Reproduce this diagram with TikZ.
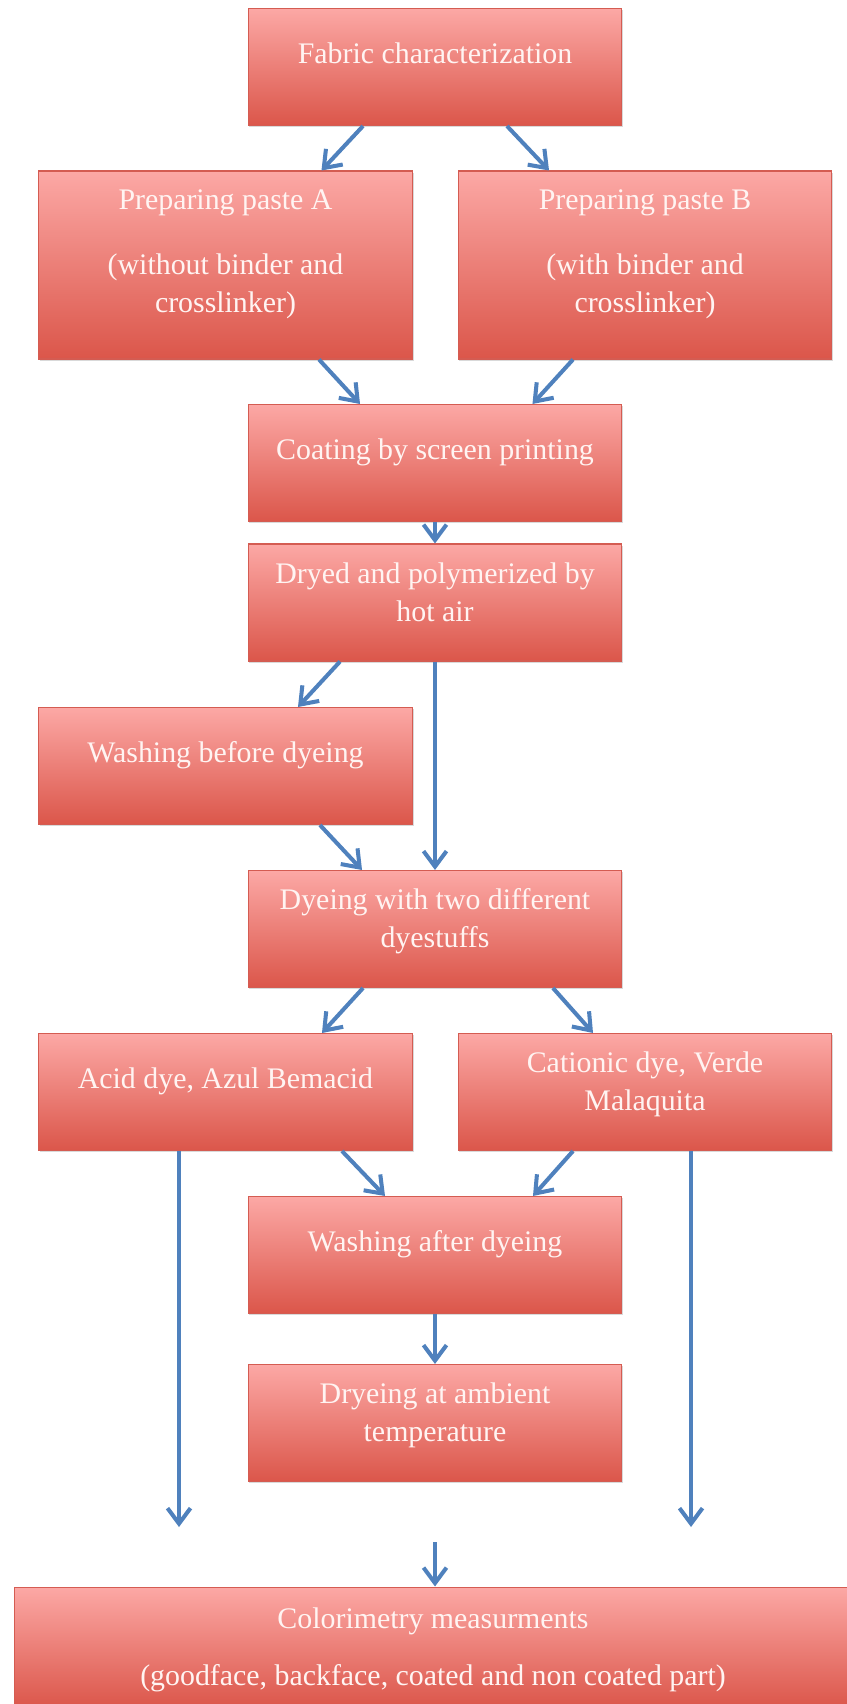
\documentclass[tikz,border=0pt]{standalone}
\usepackage{fontspec}
\setmainfont{Liberation Serif}
\usetikzlibrary{positioning,arrows.meta,shadows,calc}
\definecolor{boxtop}{RGB}{252,168,165}
\definecolor{boxbottom}{RGB}{219,86,74}
\definecolor{boxline}{RGB}{212,92,82}
\definecolor{flowblue}{RGB}{79,129,189}
\definecolor{boxtext}{RGB}{255,244,242}
\newcommand{\steptext}[1]{\begin{tabular}[b]{@{}c@{}}#1\end{tabular}}
\tikzset{
  process/.style={rectangle, draw=boxline, line width=0.6pt,
    top color=boxtop, bottom color=boxbottom,
    minimum width=7.48cm, minimum height=2.34cm, inner sep=0pt,
    text=boxtext, font=\fontsize{17}{21.8}\selectfont, text depth=19pt,
    drop shadow={shadow xshift=0.7pt, shadow yshift=-0.9pt, opacity=0.3}},
  twoline/.style={text depth=15.5pt},
  flow/.style={draw=flowblue, line width=2.3pt,
    -{Straight Barb[length=3.1mm,width=4.6mm]}},
}

\begin{document}
\begin{tikzpicture}[x=0.02cm, y=-0.02cm]
\useasboundingbox (0,0) rectangle (847,1704);

\node[process] (fabric) at (435,67) {\steptext{Fabric characterization}};
\node[process, minimum height=3.76cm, text depth=20pt] (pasteA) at (225.5,265)
  {\steptext{Preparing paste A\\[15.2pt] (without binder and\\ crosslinker)}};
\node[process, minimum height=3.76cm, text depth=20pt] (pasteB) at (645,265)
  {\steptext{Preparing paste B\\[15.2pt] (with binder and\\ crosslinker)}};
\node[process] (coating) at (435,463) {\steptext{Coating by screen printing}};
\node[process, twoline] (drying) at (435,602.5) {\steptext{Dryed and polymerized by\\ hot air}};
\node[process] (washpre) at (225.5,766) {\steptext{Washing before dyeing}};
\node[process, twoline] (dyeing) at (435,929) {\steptext{Dyeing with two different\\ dyestuffs}};
\node[process] (acid) at (225.5,1092) {\steptext{Acid dye, Azul Bemacid}};
\node[process, twoline] (cationic) at (645,1092) {\steptext{Cationic dye, Verde\\ Malaquita}};
\node[process] (washpost) at (435,1255) {\steptext{Washing after dyeing}};
\node[process, twoline] (ambient) at (435,1423) {\steptext{Dryeing at ambient\\ temperature}};
\node[process, minimum width=16.76cm, minimum height=2.42cm, text depth=4pt] (colorim) at (433,1647.5)
  {\steptext{Colorimetry measurments\\[10.6pt] (goodface, backface, coated and non coated part)}};

\coordinate (acidend) at (179,1527);
\coordinate (cationicend) at (691,1527);
\coordinate (midstart) at (435,1542);

\path
([xshift=-1.44cm]fabric.south) edge[flow] ([xshift=1.92cm]pasteA.north)
([xshift=1.44cm]fabric.south) edge[flow] ([xshift=-1.92cm]pasteB.north)
([xshift=1.87cm]pasteA.south) edge[flow] ([xshift=-1.5cm]coating.north)
([xshift=-1.44cm]pasteB.south) edge[flow] ([xshift=1.95cm]coating.north)
(coating.south) edge[flow] (drying.north)
([xshift=-1.9cm]drying.south) edge[flow] ([xshift=1.45cm]washpre.north)
(drying.south) edge[flow] (dyeing.north)
([xshift=1.89cm]washpre.south) edge[flow] ([xshift=-1.46cm]dyeing.north)
([xshift=-1.44cm]dyeing.south) edge[flow] ([xshift=1.93cm]acid.north)
([xshift=2.36cm]dyeing.south) edge[flow] ([xshift=-1.04cm]cationic.north)
([xshift=2.33cm]acid.south) edge[flow] ([xshift=-1cm]washpost.north)
([xshift=-1.44cm]cationic.south) edge[flow] ([xshift=1.96cm]washpost.north)
(washpost.south) edge[flow] (ambient.north)
(acidend |- acid.south) edge[flow] (acidend)
(cationicend |- cationic.south) edge[flow] (cationicend)
(midstart) edge[flow] (midstart |- colorim.north);
\end{tikzpicture}
\end{document}
